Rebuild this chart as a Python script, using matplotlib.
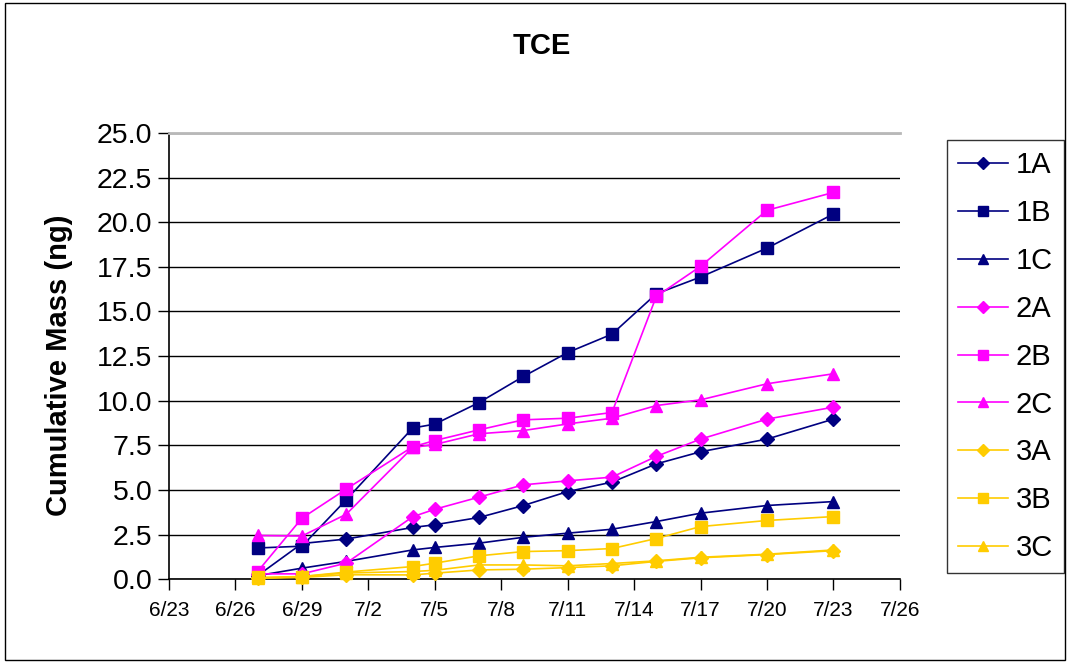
import datetime as dt
import matplotlib
matplotlib.use("Agg")
import matplotlib.pyplot as plt
import matplotlib.dates as mdates
from matplotlib.patches import Rectangle
from matplotlib.ticker import FuncFormatter, MultipleLocator

# Sampling dates (month, day)
dates = [(6, 27), (6, 29), (7, 1), (7, 4), (7, 5), (7, 7), (7, 9),
         (7, 11), (7, 13), (7, 15), (7, 17), (7, 20), (7, 23)]

# Cumulative mass (ng)
s_1A = [0.2, 2.0, 2.25, 2.9, 3.05, 3.46, 4.13, 4.91, 5.44, 6.46, 7.14, 7.85, 8.97]
s_1B = [1.75, 1.85, 4.45, 8.47, 8.69, 9.9, 11.36, 12.7, 13.73, 15.99, 16.93, 18.55, 20.46]
s_1C = [0.2, 0.62, 1.0, 1.64, 1.78, 2.02, 2.35, 2.58, 2.8, 3.23, 3.7, 4.13, 4.35]
s_2A = [0.3, 0.3, 0.9, 3.5, 3.92, 4.6, 5.29, 5.51, 5.72, 6.88, 7.85, 8.97, 9.64]
s_2B = [0.43, 3.42, 5.05, 7.42, 7.77, 8.37, 8.93, 9.02, 9.34, 15.84, 17.53, 20.67, 21.67]
s_2C = [2.45, 2.42, 3.64, 7.38, 7.55, 8.15, 8.33, 8.7, 9.02, 9.73, 10.05, 10.95, 11.51]
s_3A = [0.05, 0.1, 0.25, 0.24, 0.34, 0.52, 0.56, 0.65, 0.75, 1.0, 1.2, 1.38, 1.6]
s_3B = [0.1, 0.15, 0.4, 0.71, 0.9, 1.31, 1.55, 1.6, 1.72, 2.28, 2.95, 3.29, 3.51]
s_3C = [0.05, 0.15, 0.35, 0.43, 0.5, 0.8, 0.8, 0.75, 0.88, 1.03, 1.23, 1.4, 1.64]

labels = ["1A", "1B", "1C", "2A", "2B", "2C", "3A", "3B", "3C"]
series = [s_1A, s_1B, s_1C, s_2A, s_2B, s_2C, s_3A, s_3B, s_3C]
colors = ["#000080"] * 3 + ["#FF00FF"] * 3 + ["#FFCC00"] * 3
markers = ["D", "s", "^"] * 3

x = [dt.date(2004, m, d) for m, d in dates]

plt.rcParams['font.family'] = ['Liberation Sans', 'DejaVu Sans']

fig = plt.figure(figsize=(10.7, 6.65), dpi=100)
ax = fig.add_axes([0.158, 0.129, 0.683, 0.671])

for lab, ys, c, mk in zip(labels, series, colors, markers):
    ms = 7 if mk == "D" else 8
    ax.plot(x, ys, color=c, marker=mk, markersize=ms, linewidth=1.2,
            label=lab, clip_on=False, zorder=3)

ax.set_xlim(dt.date(2004, 6, 23), dt.date(2004, 7, 26))
ax.set_ylim(0, 25)
ticks = [dt.date(2004, 6, 23) + dt.timedelta(days=3 * i) for i in range(12)]
ax.set_xticks(ticks)
ax.xaxis.set_major_formatter(FuncFormatter(
    lambda v, p: f"{mdates.num2date(v).month}/{mdates.num2date(v).day}"))
ax.yaxis.set_major_locator(MultipleLocator(2.5))
ax.yaxis.set_major_formatter(FuncFormatter(lambda v, p: f"{v:.1f}"))

ax.grid(axis="y", color="black", linewidth=1.0)
ax.set_axisbelow(True)
ax.spines["right"].set_visible(False)
ax.spines["top"].set_color("#b8b8b8")
ax.spines["top"].set_linewidth(2)
ax.spines["left"].set_linewidth(1.2)
ax.spines["bottom"].set_linewidth(1.2)
ax.tick_params(axis="y", labelsize=20.5, length=8, width=1, direction="out", pad=4)
ax.tick_params(axis="x", labelsize=15, length=8, width=1, direction="out", pad=8)

ax.set_ylabel("Cumulative Mass (ng)", fontsize=21, fontweight="bold")
ax.yaxis.set_label_coords(-0.132, 0.48)
fig.text(0.506, 0.931, "TCE", fontsize=21, fontweight="bold", ha="center", va="center")

leg = ax.legend(loc="upper left", bbox_to_anchor=(0.885, 0.789), bbox_transform=fig.transFigure,
                fontsize=21, frameon=True, fancybox=False, edgecolor="black",
                handlelength=1.7, labelspacing=0.68, borderpad=0.38, handletextpad=0.28,
                borderaxespad=0, markerscale=0.85)
leg.get_frame().set_linewidth(1.0)

fig.patches.append(Rectangle((0.005, 0.007), 0.99, 0.988, transform=fig.transFigure,
                             fill=False, edgecolor="black", linewidth=1.0))

fig.savefig("out.png", dpi=100)
